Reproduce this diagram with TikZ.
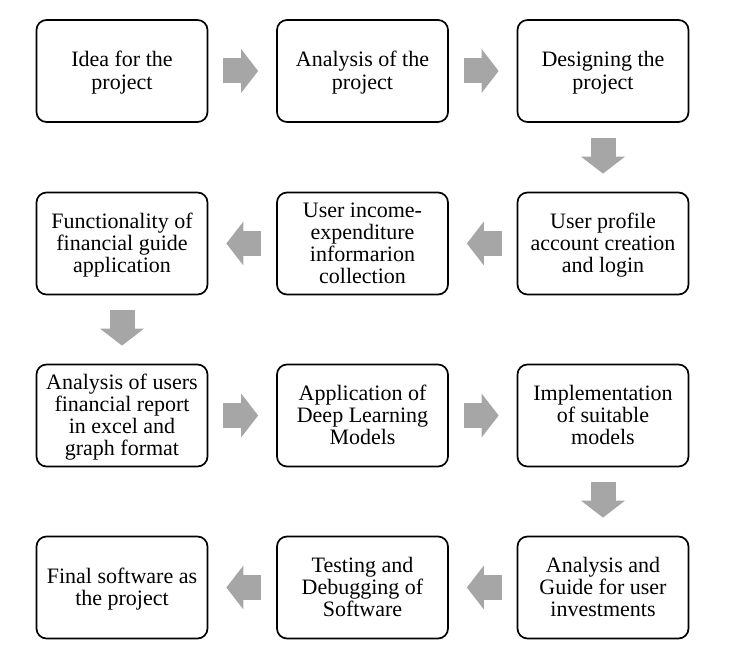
\documentclass[tikz,border=0pt]{standalone}
\usepackage{fontspec}
\setmainfont{Liberation Serif}
\usetikzlibrary{arrows.meta}
\begin{document}
\begin{tikzpicture}[x=1pt,y=-1pt,
  stepbox/.style={draw, line width=1.7pt, rounded corners=10pt, minimum width=171pt, minimum height=102pt, text width=163pt, align=flush center, inner sep=2pt, font=\fontsize{22}{22.3}\selectfont,
    execute at begin node={\rule{0pt}{19.5pt}}, execute at end node={\rule[-5.5pt]{0pt}{5.5pt}}},
  fatarrow/.style={draw=black!35, line width=25pt, shorten <=15pt, shorten >=18pt, -{Triangle[length=17pt 0,width=43pt 0,color=black!35]}}]
\useasboundingbox (0,0) rectangle (734,663);
\node[stepbox] (1) at (122,71) {Idea for the\\project};
\node[stepbox] (2) at (362.5,71) {Analysis of the\\project};
\node[stepbox] (3) at (603,71) {Designing the\\project};
\node[stepbox] (4) at (603,243.5) {User profile\\account creation\\and login};
\node[stepbox] (5) at (362.5,243.5) {User income-\\expenditure\\informarion\\collection};
\node[stepbox] (6) at (122,243.5) {Functionality of\\financial guide\\application};
\node[stepbox] (7) at (122,415.5) {Analysis of users\\financial report\\in excel and\\graph format};
\node[stepbox] (8) at (362.5,415.5) {Application of\\Deep Learning\\Models};
\node[stepbox] (9) at (603,415.5) {Implementation\\of suitable\\models};
\node[stepbox] (10) at (603,587.5) {Analysis and\\Guide for user\\investments};
\node[stepbox] (11) at (362.5,587.5) {Testing and\\Debugging of\\Software};
\node[stepbox] (12) at (122,587.5) {Final software as\\the project};
\path[fatarrow] (1.east) -- (2.west);
\path[fatarrow] (2.east) -- (3.west);
\path[fatarrow] (3.south) -- (4.north);
\path[fatarrow] (4.west) -- (5.east);
\path[fatarrow] (5.west) -- (6.east);
\path[fatarrow] (6.south) -- (7.north);
\path[fatarrow] (7.east) -- (8.west);
\path[fatarrow] (8.east) -- (9.west);
\path[fatarrow] (9.south) -- (10.north);
\path[fatarrow] (10.west) -- (11.east);
\path[fatarrow] (11.west) -- (12.east);
\end{tikzpicture}
\end{document}
